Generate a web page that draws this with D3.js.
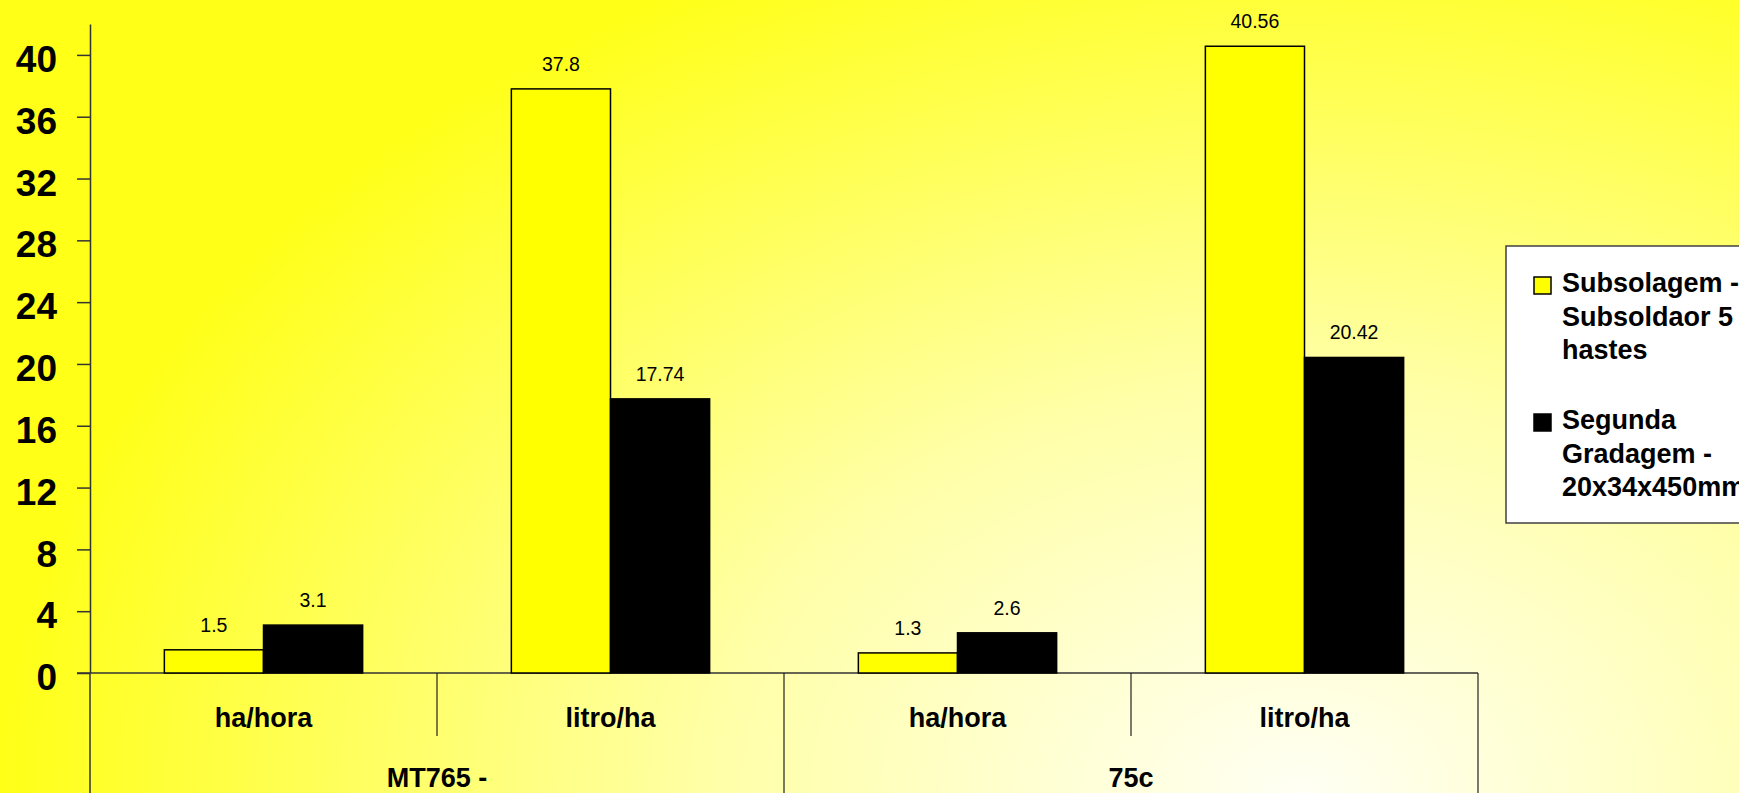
<!DOCTYPE html>
<meta charset="utf-8">
<script src="https://d3js.org/d3.v7.min.js"></script>
<style>
  body { margin: 0; overflow: hidden; }
  svg text { font-family: "Liberation Sans", Arial, sans-serif; }
</style>
<div id="my_dataviz"></div>
<script>

// data
var categories = ["ha/hora", "litro/ha", "ha/hora", "litro/ha"];
var groups = ["MT765 -", "75c"];
var seriesNames = [
  ["Subsolagem -", "Subsoldaor 5", "hastes"],
  ["Segunda", "Gradagem -", "20x34x450mm"]
];
var subsolagem = [1.5, 37.8, 1.3, 40.56];
var gradagem = [3.1, 17.74, 2.6, 20.42];
var yTicks = [0, 4, 8, 12, 16, 20, 24, 28, 32, 36, 40];

var width = 1739, height = 793;
var colors = ["#ffff00", "#000000"];

var svg = d3.select("#my_dataviz")
  .append("svg")
    .attr("width", width)
    .attr("height", height);

// background gradient, pale towards the bottom right
var grad = svg.append("defs").append("radialGradient")
    .attr("id", "bg")
    .attr("gradientUnits", "userSpaceOnUse")
    .attr("cx", 1300).attr("cy", 793).attr("r", 1300)
    .attr("gradientTransform", "translate(0,793) scale(1,0.7) translate(0,-793)");
grad.append("stop").attr("offset", "0%").attr("stop-color", "#fffff4");
grad.append("stop").attr("offset", "45%").attr("stop-color", "#ffffa8");
grad.append("stop").attr("offset", "100%").attr("stop-color", "#ffff18");

svg.append("rect")
    .attr("width", width)
    .attr("height", height)
    .attr("fill", "url(#bg)");

// scales
var x0 = d3.scaleBand()
  .domain(d3.range(categories.length))
  .range([90, 1478]);

var x1 = d3.scaleBand()
  .domain([0, 1])
  .range([0, x0.bandwidth()])
  .paddingInner(0)
  .paddingOuter(0.75);

var y = d3.scaleLinear()
  .domain([0, 42])
  .range([673, 24]);

// Y axis
var yAxis = svg.append("g")
  .attr("transform", "translate(90,0)")
  .call(d3.axisLeft(y).tickValues(yTicks).tickSize(13).tickSizeOuter(0).tickPadding(20));
yAxis.select(".domain").attr("stroke", "#333").attr("stroke-width", 1.5);
yAxis.selectAll(".tick line").attr("stroke", "#333").attr("stroke-width", 1.5);
yAxis.selectAll(".tick text")
  .attr("font-size", 37)
  .attr("font-weight", "bold")
  .attr("font-family", "Liberation Sans, Arial, sans-serif")
  .attr("fill", "#000")
  .attr("dy", "0.45em");

// axis line continues down through the category area
svg.append("line")
  .attr("x1", 90).attr("x2", 90)
  .attr("y1", y(0)).attr("y2", height)
  .attr("stroke", "#333").attr("stroke-width", 1.5);

// X axis baseline
svg.append("line")
  .attr("x1", 77).attr("x2", x0.range()[1])
  .attr("y1", y(0)).attr("y2", y(0))
  .attr("stroke", "#333").attr("stroke-width", 1.5);

// separators between categories (short) and groups (full height)
d3.range(1, categories.length + 1).forEach(function (i) {
  var xx = x0.range()[0] + i * x0.step();
  svg.append("line")
    .attr("x1", xx).attr("x2", xx)
    .attr("y1", y(0))
    .attr("y2", i % 2 === 0 ? height : 736)
    .attr("stroke", "#222").attr("stroke-width", 1.2);
});

// category labels
svg.append("g")
  .selectAll("text")
  .data(categories)
  .enter()
  .append("text")
    .attr("x", function (d, i) { return x0(i) + x0.bandwidth() / 2; })
    .attr("y", 727)
    .attr("text-anchor", "middle")
    .attr("font-size", 27)
    .attr("font-weight", "bold")
    .text(function (d) { return d; });

// group labels
svg.append("g")
  .selectAll("text")
  .data(groups)
  .enter()
  .append("text")
    .attr("x", function (d, i) { return x0(i * 2) + x0.step(); })
    .attr("y", 787)
    .attr("text-anchor", "middle")
    .attr("font-size", 27)
    .attr("font-weight", "bold")
    .text(function (d) { return d; });

// bars
var rows = categories.map(function (c, i) {
  return [subsolagem[i], gradagem[i]];
});

var cat = svg.append("g")
  .selectAll("g")
  .data(rows)
  .enter()
  .append("g")
    .attr("transform", function (d, i) { return "translate(" + x0(i) + ",0)"; });

cat.selectAll("rect")
  .data(function (d) { return d; })
  .enter()
  .append("rect")
    .attr("x", function (d, j) { return x1(j); })
    .attr("y", function (d) { return y(d); })
    .attr("width", x1.bandwidth())
    .attr("height", function (d) { return y(0) - y(d); })
    .attr("fill", function (d, j) { return colors[j]; })
    .attr("stroke", "#000")
    .attr("stroke-width", 1.5);

cat.selectAll("text")
  .data(function (d) { return d; })
  .enter()
  .append("text")
    .attr("x", function (d, j) { return x1(j) + x1.bandwidth() / 2; })
    .attr("y", function (d) { return y(d) - 18; })
    .attr("text-anchor", "middle")
    .attr("font-size", 19.5)
    .attr("fill", "#000")
    .text(function (d) { return d; });

// legend
var legend = svg.append("g");
legend.append("rect")
  .attr("x", 1506).attr("y", 246)
  .attr("width", 260).attr("height", 277)
  .attr("fill", "#fff")
  .attr("stroke", "#404040")
  .attr("stroke-width", 1.5);

var legendTop = [292, 429];
seriesNames.forEach(function (lines, k) {
  legend.append("rect")
    .attr("x", 1534).attr("y", legendTop[k] - 15)
    .attr("width", 17).attr("height", 17)
    .attr("fill", colors[k])
    .attr("stroke", "#000")
    .attr("stroke-width", 1.5);
  lines.forEach(function (line, l) {
    legend.append("text")
      .attr("x", 1562)
      .attr("y", legendTop[k] + l * 33.5)
      .attr("font-size", 27)
      .attr("font-weight", "bold")
      .text(line);
  });
});

</script>
